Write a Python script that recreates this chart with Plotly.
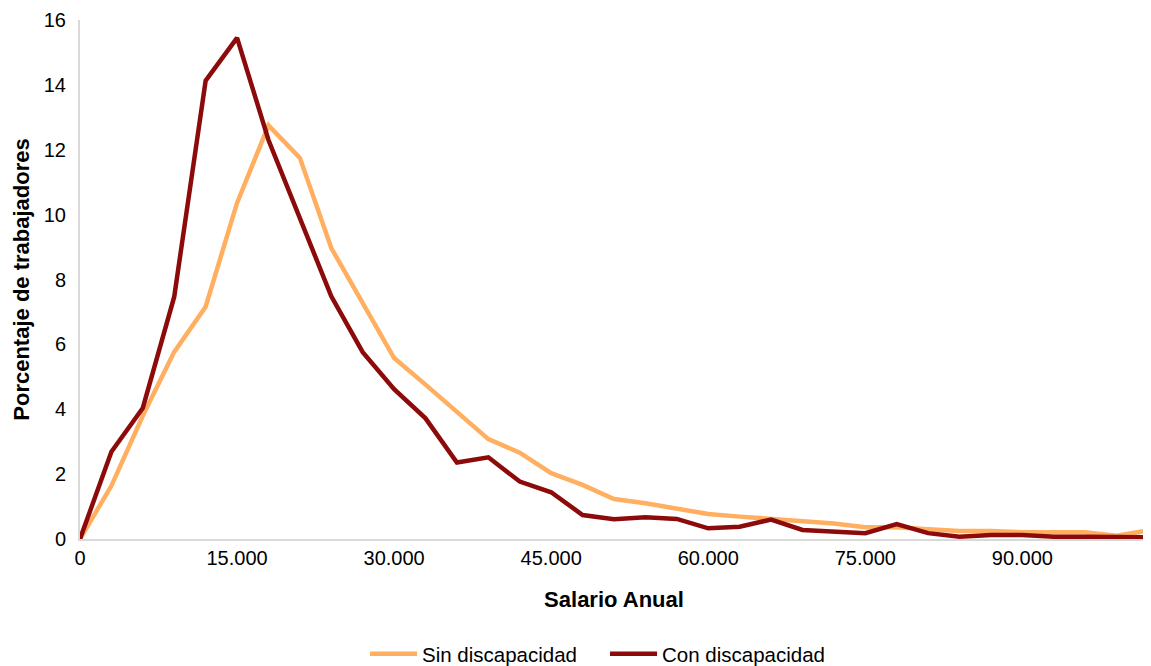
import plotly.graph_objects as go

salario = [0, 3000, 6000, 9000, 12000, 15000, 18000, 21000, 24000, 27000,
           30000, 33000, 36000, 39000, 42000, 45000, 48000, 51000, 54000, 57000,
           60000, 63000, 66000, 69000, 72000, 75000, 78000, 81000, 84000, 87000,
           90000, 93000, 96000, 99000, 102000]

sin_discapacidad = [0, 1.64, 3.8, 5.77, 7.16, 10.36, 12.75, 11.75, 8.97, 7.27,
                    5.58, 4.76, 3.92, 3.08, 2.66, 2.03, 1.67, 1.23, 1.10, 0.95,
                    0.77, 0.69, 0.61, 0.53, 0.48, 0.36, 0.36, 0.30, 0.25, 0.25,
                    0.21, 0.21, 0.21, 0.10, 0.26]

con_discapacidad = [0, 2.69, 4.04, 7.47, 14.13, 15.45, 12.3, 9.85, 7.48, 5.76,
                    4.62, 3.72, 2.36, 2.52, 1.77, 1.44, 0.74, 0.61, 0.67, 0.62,
                    0.33, 0.38, 0.60, 0.28, 0.23, 0.18, 0.46, 0.18, 0.07, 0.12,
                    0.12, 0.07, 0.07, 0.05, 0.05]

x_ticks = [0, 15000, 30000, 45000, 60000, 75000, 90000]
y_ticks = [0, 2, 4, 6, 8, 10, 12, 14, 16]

fig = go.Figure()
fig.add_trace(go.Scatter(x=salario, y=sin_discapacidad, mode="lines",
                         name="Sin discapacidad",
                         line=dict(color="#FFAF5F", width=4.5)))
fig.add_trace(go.Scatter(x=salario, y=con_discapacidad, mode="lines",
                         name="Con discapacidad",
                         line=dict(color="#8C0A0A", width=4.5)))

font_family = "Liberation Sans, Arial, sans-serif"

# the page places the figure 8px from the top-left corner
fig.update_layout(
    width=1143, height=658,
    margin=dict(l=72, r=3, t=12, b=127),
    paper_bgcolor="white", plot_bgcolor="white",
    separators=",.",
    font=dict(family=font_family, size=20, color="#000000"),
    showlegend=True,
    legend=dict(orientation="h", x=0.4916, xanchor="center",
                yref="container", y=12 / 658, yanchor="middle",
                font=dict(size=20.5), itemwidth=47,
                entrywidth=178, entrywidthmode="pixels",
                bgcolor="rgba(0,0,0,0)"),
    xaxis=dict(range=[0, 102000], tickvals=x_ticks, tickformat=",d",
               showgrid=False, zeroline=False, automargin=False,
               showline=True, linecolor="#D9D9D9", linewidth=2,
               ticks="", ticklabelstandoff=0,
               title=dict(text="<b>Salario Anual</b>", font=dict(size=22),
                          standoff=24)),
    yaxis=dict(range=[0, 16], tickvals=y_ticks,
               showgrid=False, zeroline=False, automargin=False,
               showline=True, linecolor="#D9D9D9", linewidth=2,
               ticks="", ticklabelstandoff=8,
               title=dict(text="<b>Porcentaje de trabajadores</b>",
                          font=dict(size=22), standoff=8)),
)

fig.write_html("out.html")
